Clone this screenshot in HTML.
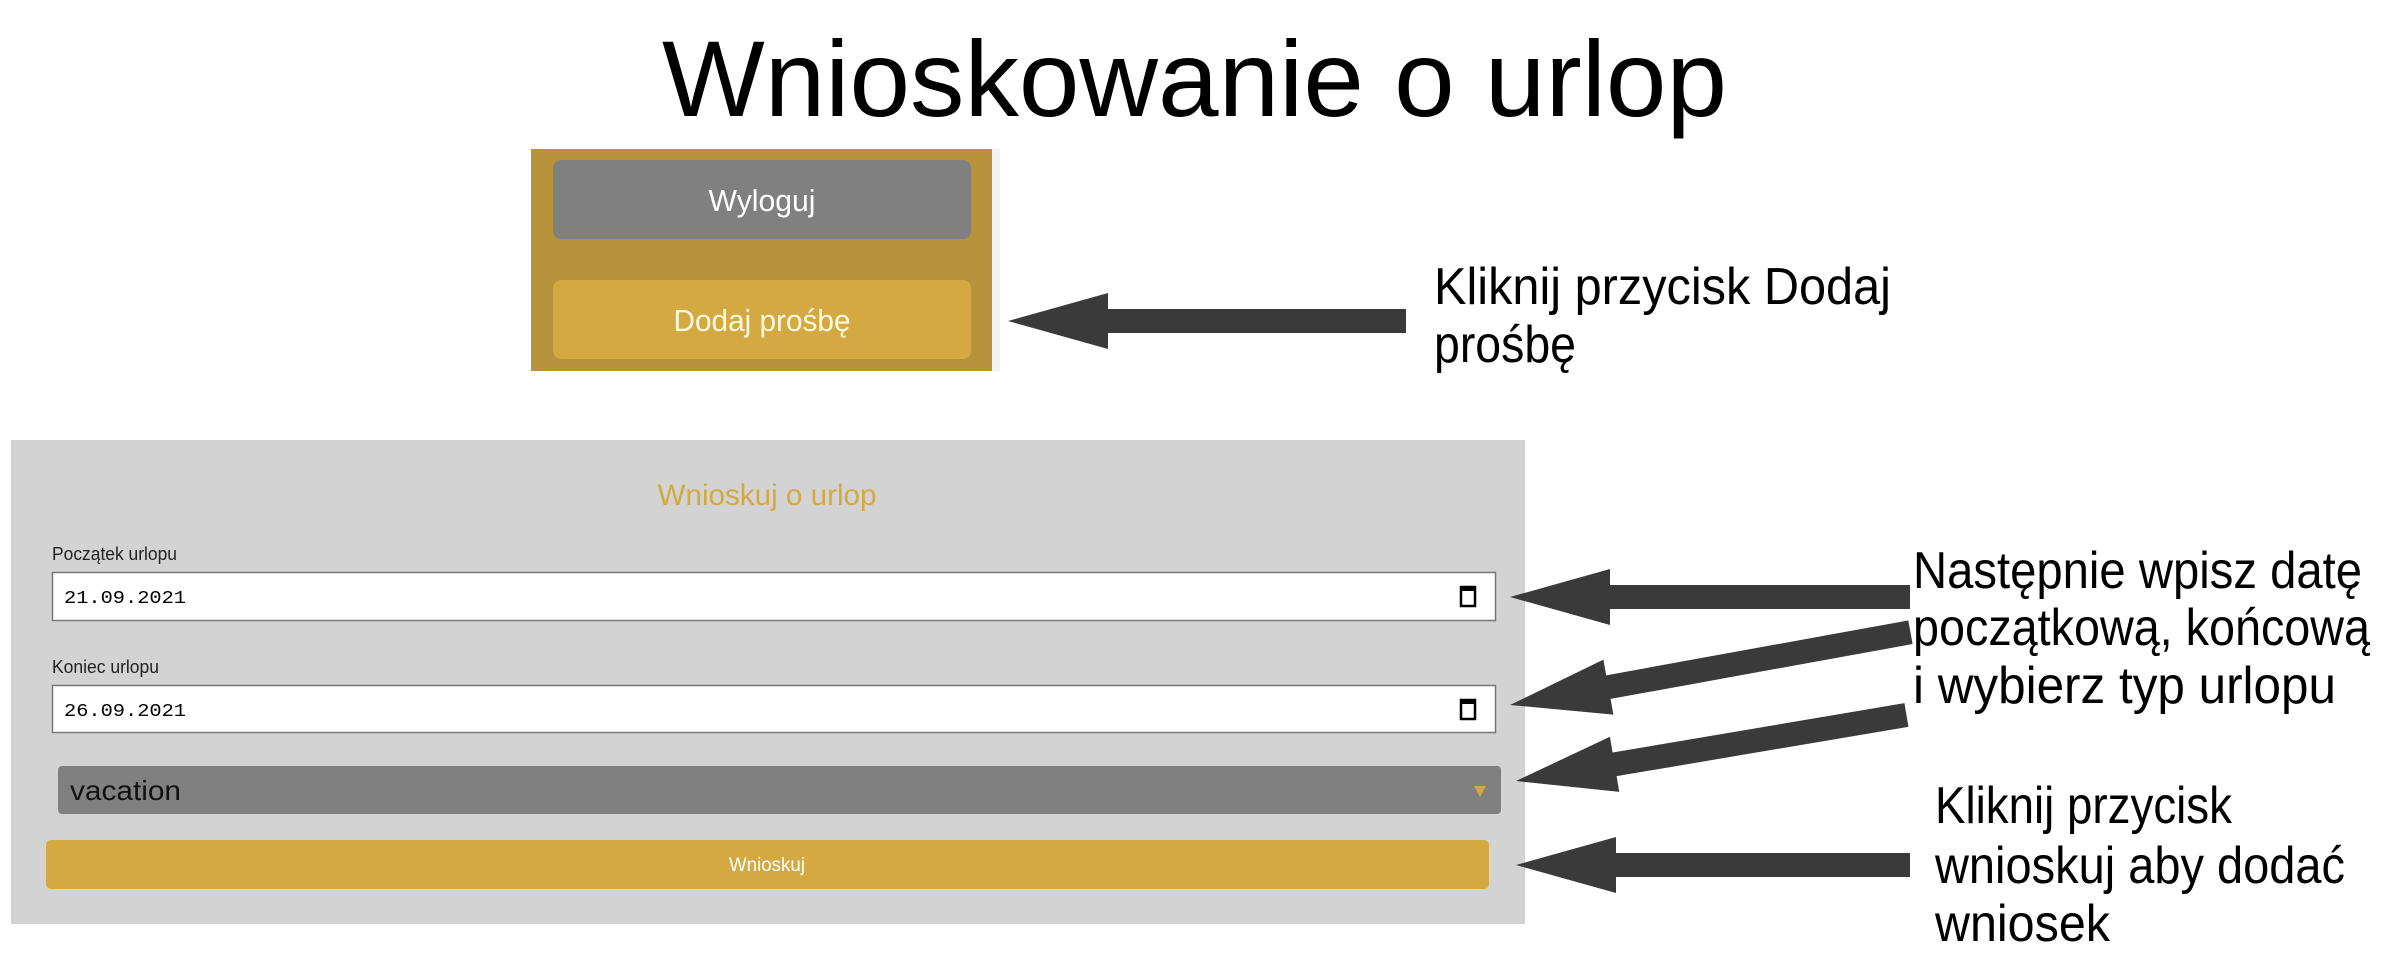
<!DOCTYPE html>
<html><head><meta charset="utf-8"><style>
html,body{margin:0;padding:0;background:#fff;}
svg{display:block;}
text{font-family:"Liberation Sans",sans-serif;}
</style></head><body>
<svg width="2387" height="974" viewBox="0 0 2387 974" xmlns="http://www.w3.org/2000/svg">
<rect width="2387" height="974" fill="#fff"/>
<text x="662" y="116" font-size="108" textLength="1065" lengthAdjust="spacingAndGlyphs" fill="#000">Wnioskowanie o urlop</text>

<!-- top panel -->
<rect x="531" y="149" width="461" height="222" fill="#b8923a"/>
<rect x="992" y="149" width="8" height="222" fill="#f2f2f2"/>
<rect x="553" y="160" width="418" height="79" rx="8" fill="#808080"/>
<text x="762" y="211" font-size="31" text-anchor="middle" textLength="107" lengthAdjust="spacingAndGlyphs" fill="#fff">Wyloguj</text>
<rect x="553" y="280" width="418" height="79" rx="8" fill="#d4a942"/>
<text x="762" y="331" font-size="31" text-anchor="middle" textLength="177" lengthAdjust="spacingAndGlyphs" fill="#fff8e0">Dodaj prośbę</text>

<!-- form panel -->
<rect x="11" y="440" width="1514" height="484" fill="#d3d3d3"/>
<text x="767" y="505" font-size="30" text-anchor="middle" textLength="219" lengthAdjust="spacingAndGlyphs" fill="#d4a942">Wnioskuj o urlop</text>
<text x="52" y="560" font-size="18" textLength="125" lengthAdjust="spacingAndGlyphs" fill="#222">Początek urlopu</text>
<rect x="52.5" y="572.5" width="1443" height="48" fill="#fff" stroke="#777" stroke-width="1.5"/>
<text x="64" y="603" font-size="18" font-family="Liberation Mono" textLength="122" lengthAdjust="spacingAndGlyphs" fill="#000" style="font-family:'Liberation Mono',monospace">21.09.2021</text>
<rect x="1461" y="587" width="14" height="19" fill="none" stroke="#000" stroke-width="2.5"/><rect x="1461" y="586" width="14" height="5" fill="#000"/>
<text x="52" y="673" font-size="18" textLength="107" lengthAdjust="spacingAndGlyphs" fill="#222">Koniec urlopu</text>
<rect x="52.5" y="685.5" width="1443" height="47" fill="#fff" stroke="#777" stroke-width="1.5"/>
<text x="64" y="716" font-size="18" textLength="122" lengthAdjust="spacingAndGlyphs" fill="#000" style="font-family:'Liberation Mono',monospace">26.09.2021</text>
<rect x="1461" y="700" width="14" height="19" fill="none" stroke="#000" stroke-width="2.5"/><rect x="1461" y="699" width="14" height="5" fill="#000"/>
<rect x="58" y="766" width="1443" height="48" rx="4" fill="#808080"/>
<text x="70" y="800" font-size="28" textLength="111" lengthAdjust="spacingAndGlyphs" fill="#111">vacation</text>
<polygon points="1474,786 1486,786 1480,797" fill="#d4a942"/>
<rect x="46" y="840" width="1443" height="49" rx="5" fill="#d4a942"/>
<text x="767" y="871" font-size="19" text-anchor="middle" textLength="76" lengthAdjust="spacingAndGlyphs" fill="#fff">Wnioskuj</text>

<!-- arrows -->
<g fill="#3a3a3a">
<g transform="translate(1008,321)"><polygon points="0,0 100,-28 100,-12 398,-12 398,12 100,12 100,28"/></g>
<g transform="translate(1510,597)"><polygon points="0,0 100,-28 100,-12 400,-12 400,12 100,12 100,28"/></g>
<g transform="translate(1510,705) rotate(-10.3)"><polygon points="0,0 100,-28 100,-12 407,-12 407,12 100,12 100,28"/></g>
<g transform="translate(1516,781) rotate(-9.6)"><polygon points="0,0 100,-28 100,-12 396,-12 396,12 100,12 100,28"/></g>
<g transform="translate(1516,865)"><polygon points="0,0 100,-28 100,-12 394,-12 394,12 100,12 100,28"/></g>
</g>

<!-- annotations -->
<g font-size="52" fill="#000">
<text x="1434" y="304" textLength="457" lengthAdjust="spacingAndGlyphs">Kliknij przycisk Dodaj</text>
<text x="1434" y="362" textLength="142" lengthAdjust="spacingAndGlyphs">prośbę</text>
<text x="1913" y="588" textLength="449" lengthAdjust="spacingAndGlyphs">Następnie wpisz datę</text>
<text x="1913" y="645" textLength="457" lengthAdjust="spacingAndGlyphs">początkową, końcową</text>
<text x="1913" y="703" textLength="423" lengthAdjust="spacingAndGlyphs">i wybierz typ urlopu</text>
<text x="1935" y="823" textLength="297" lengthAdjust="spacingAndGlyphs">Kliknij przycisk</text>
<text x="1935" y="883" textLength="410" lengthAdjust="spacingAndGlyphs">wnioskuj aby dodać</text>
<text x="1935" y="941" textLength="175" lengthAdjust="spacingAndGlyphs">wniosek</text>
</g>
</svg>
</body></html>
